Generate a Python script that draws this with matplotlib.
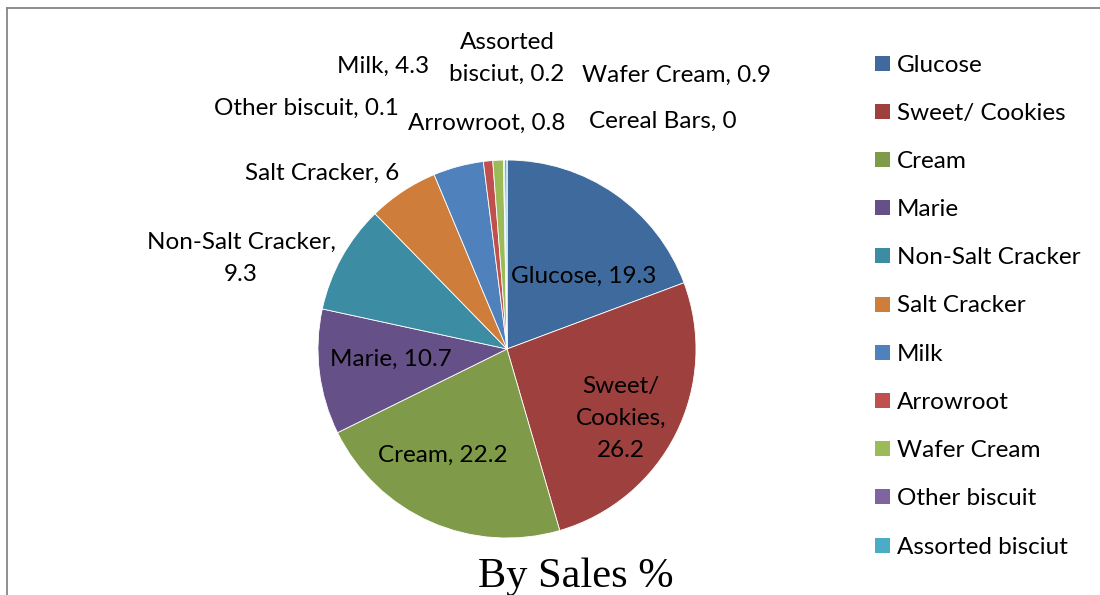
import matplotlib
matplotlib.use("Agg")
import matplotlib.pyplot as plt
from matplotlib.patches import Rectangle
from matplotlib.lines import Line2D

# ---- data ----
categories = ["Glucose", "Sweet/ Cookies", "Cream", "Marie", "Non-Salt Cracker",
              "Salt Cracker", "Milk", "Arrowroot", "Wafer Cream", "Other biscuit",
              "Assorted bisciut", "Cereal Bars"]
values = [19.3, 26.2, 22.2, 10.7, 9.3, 6, 4.3, 0.8, 0.9, 0.1, 0.2, 0]
label_texts = ["Glucose, 19.3", "Sweet/\nCookies,\n26.2", "Cream, 22.2", "Marie, 10.7",
               "Non-Salt Cracker,\n9.3", "Salt Cracker, 6", "Milk, 4.3", "Arrowroot, 0.8",
               "Wafer Cream, 0.9", "Other biscuit, 0.1", "Assorted\nbisciut, 0.2",
               "Cereal Bars, 0"]
title = "By Sales %"
legend_count = 11  # legend shows first 11 entries (last one cut off)

# ---- styles / positions ----
colors = ["#3F6A9D", "#9E403E", "#7F9A48", "#655088", "#3C8DA3", "#CE7E3A",
          "#4F81BD", "#C0504D", "#9BBB59", "#8064A2", "#4BACC6", "#F79646"]
# label anchor (x center, last-line baseline) in pixel coords from top-left
label_pos = [(584, 283), (621, 457), (443, 462), (391, 366), (241, 281),
             (322, 180), (383, 73), (487, 130), (677, 82), (306, 115),
             (507, 81), (663, 128)]

W, H = 1100, 595
FONT = ["Lato", "DejaVu Sans"]
FS = 17.5

fig = plt.figure(figsize=(W / 100, H / 100), dpi=100)
ax = fig.add_axes([0, 0, 1, 1])
ax.set_xlim(0, W)
ax.set_ylim(H, 0)
ax.set_aspect("equal")
ax.axis("off")

# pie (y axis inverted -> counterclock=True draws clockwise on screen)
cx, cy, r = 507, 349, 189
wedges, _ = ax.pie(values, colors=colors, startangle=-90, counterclock=True,
                   center=(cx, cy), radius=r, frame=True,
                   wedgeprops=dict(edgecolor="white", linewidth=0.6))
ax.set_xlim(0, W)
ax.set_ylim(H, 0)
ax.axis("off")

for txt, (x, y) in zip(label_texts, label_pos):
    ax.text(x, y, txt, ha="center", va="baseline", fontsize=FS, family=FONT,
            color="black", linespacing=1.66, multialignment="center")

# legend (manual)
for i in range(legend_count):
    yc = 63 + 48.2 * i
    ax.add_patch(Rectangle((875, yc - 7.5), 15, 15, facecolor=colors[i], edgecolor="none"))
    ax.text(897, yc + 8.5, categories[i], ha="left", va="baseline", fontsize=FS,
            family=FONT, color="black")

# title
ax.text(576, 587, title, ha="center", va="baseline", fontsize=30.5,
        family=["Liberation Serif", "DejaVu Serif"], color="black")

# chart border (partially visible)
ax.add_line(Line2D([7, W], [8, 8], color="#868686", linewidth=1.3))
ax.add_line(Line2D([7, 7], [8, H], color="#868686", linewidth=1.3))

fig.savefig("out.png", dpi=100)
